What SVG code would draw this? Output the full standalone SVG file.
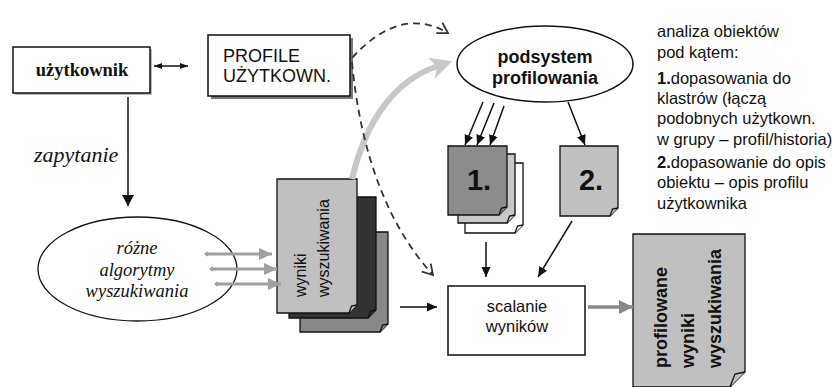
<svg xmlns="http://www.w3.org/2000/svg" width="832" height="387" viewBox="0 0 832 387">
<style>
.sans{font-family:"Liberation Sans",Arial,sans-serif;}
.serif{font-family:"Liberation Serif","DejaVu Serif","Times New Roman",serif;}
.box{fill:#fff;stroke:#111;stroke-width:1.5;}
.doc{stroke:#111;stroke-width:1.3;}
.blk{stroke:#111;stroke-width:1.5;fill:none;}
.dash{stroke:#333;stroke-width:1.8;fill:none;stroke-dasharray:7 5;}
.garr{stroke:#a0a0a0;stroke-width:3;fill:none;}
</style>
<defs>
<marker id="ab" markerUnits="userSpaceOnUse" markerWidth="12" markerHeight="12" refX="11" refY="6" orient="auto"><path d="M0,0 L11,6 L0,12 Z" fill="#111"/></marker>
<marker id="abs" markerUnits="userSpaceOnUse" markerWidth="10" markerHeight="10" refX="10" refY="5" orient="auto"><path d="M0,0.5 L10,5 L0,9.5 Z" fill="#111"/></marker>
<marker id="ad" markerUnits="userSpaceOnUse" markerWidth="8" markerHeight="8" refX="8" refY="4" orient="auto-start-reverse"><path d="M0,1 L8,4 L0,7 Z" fill="#111"/></marker>
<marker id="ao" markerUnits="userSpaceOnUse" markerWidth="14" markerHeight="14" refX="11" refY="7" orient="auto"><path d="M1,1 L11,7 L1,13" fill="none" stroke="#333" stroke-width="1.8"/></marker>
<marker id="ag" markerUnits="userSpaceOnUse" markerWidth="14" markerHeight="12" refX="13" refY="6" orient="auto"><path d="M0,0 L13,6 L0,12 Z" fill="#a0a0a0"/></marker>
<marker id="gdot" markerUnits="userSpaceOnUse" markerWidth="6" markerHeight="6" refX="3" refY="3" orient="auto"><path d="M0,3 L3,0.5 L6,3 L3,5.5 Z" fill="#a0a0a0"/></marker>
<marker id="ag2" markerUnits="userSpaceOnUse" markerWidth="16" markerHeight="14" refX="14" refY="7" orient="auto"><path d="M0,0 L14,7 L0,14 Z" fill="#888"/></marker>
<marker id="abig" markerUnits="userSpaceOnUse" markerWidth="24" markerHeight="24" refX="7" refY="11" orient="auto"><path d="M0,0 L22,11 L0,22 L6,11 Z" fill="#c8c8c8"/></marker>
</defs>

<g id="uzytkownik">
<rect x="15" y="49" width="137" height="46" fill="#bbb"/>
<rect class="box" x="13" y="47" width="137" height="46"/>
<text class="serif" x="82" y="76" font-size="18.5" font-weight="bold" text-anchor="middle" fill="#111">użytkownik</text>
</g>

<g id="profile">
<rect x="211" y="38" width="142" height="61" fill="#777"/>
<rect class="box" x="208" y="35" width="142" height="61"/>
<text class="sans" x="223" y="62" font-size="18" fill="#111">PROFILE</text>
<text class="sans" x="223" y="82" font-size="18" fill="#111">UŻYTKOWN.</text>
</g>

<g id="podsystem">
<ellipse cx="545" cy="64" rx="88" ry="38" fill="#fff" stroke="#111" stroke-width="1.5"/>
<text class="sans" x="545" y="63" font-size="18" font-weight="bold" text-anchor="middle" fill="#111">podsystem</text>
<text class="sans" x="545" y="84" font-size="18" font-weight="bold" text-anchor="middle" fill="#111">profilowania</text>
</g>

<g id="opis" class="sans" font-size="16.5" fill="#111">
<text x="657" y="37">analiza obiektów</text>
<text x="657" y="58">pod kątem:</text>
<text x="657" y="84"><tspan font-weight="bold">1.</tspan>dopasowania do</text>
<text x="657" y="104">klastrów (łączą</text>
<text x="657" y="124">podobnych użytkown.</text>
<text x="657" y="145">w grupy – profil/historia)</text>
<text x="657" y="168"><tspan font-weight="bold">2.</tspan>dopasowanie do opis</text>
<text x="657" y="188">obiektu – opis profilu</text>
<text x="657" y="209">użytkownika</text>
</g>

<g id="zapytanie-label">
<text class="serif" x="34" y="162" font-size="22" font-style="italic" fill="#111">zapytanie</text>
</g>

<g id="algorytmy">
<ellipse cx="137.5" cy="269" rx="99.5" ry="52" fill="#fff" stroke="#111" stroke-width="1.3"/>
<text class="serif" x="137" y="254" font-size="18.5" font-style="italic" text-anchor="middle" fill="#111">różne</text>
<text class="serif" x="137" y="276" font-size="18.5" font-style="italic" text-anchor="middle" fill="#111">algorytmy</text>
<text class="serif" x="137" y="297" font-size="18.5" font-style="italic" text-anchor="middle" fill="#111">wyszukiwania</text>
</g>

<g id="wyniki">
<path class="doc" fill="#888" d="M300,232 H388 V324 L380,332 H300 Z"/>
<path class="doc" fill="#888" d="M388,324 L382.5,325 L380,332"/>
<path class="doc" fill="#333" d="M289,197 H376 V310 L368,318 H289 Z"/>
<path class="doc" fill="#333" d="M376,310 L370.5,311 L368,318"/>
<path class="doc" fill="#c0c0c0" d="M277,179 H357 V305 L349,313 H277 Z"/>
<path class="doc" fill="#c0c0c0" d="M357,305 L351.5,306 L349,313"/>
<text class="sans" transform="translate(306,297) rotate(-90)" font-size="16" fill="#111">wyniki</text>
<text class="sans" transform="translate(329,297) rotate(-90)" font-size="16" fill="#111">wyszukiwania</text>
</g>

<g id="doc1">
<path class="doc" fill="#fff" d="M465,163 H523 V225 L515,233 H465 Z"/>
<path class="doc" fill="#fff" d="M523,225 L517.5,226 L515,233"/>
<path class="doc" fill="#c8c8c8" d="M458,154 H515 V215 L507,223 H458 Z"/>
<path class="doc" fill="#c8c8c8" d="M515,215 L509.5,216 L507,223"/>
<path class="doc" fill="#8c8c8c" d="M448,146 H507 V207 L499,215 H448 Z"/>
<path class="doc" fill="#8c8c8c" d="M507,207 L501.5,208 L499,215"/>
<text class="sans" x="479" y="190" font-size="29" font-weight="bold" text-anchor="middle" fill="#111">1.</text>
</g>

<g id="doc2">
<path class="doc" fill="#c0c0c0" d="M560,146 H618 V208 L610,216 H560 Z"/>
<path class="doc" fill="#c0c0c0" d="M618,208 L612.5,209 L610,216"/>
<text class="sans" x="591" y="190" font-size="29" font-weight="bold" text-anchor="middle" fill="#111">2.</text>
</g>

<g id="scalanie">
<rect class="box" x="448" y="286" width="137" height="69"/>
<text class="sans" x="517" y="312" font-size="16.5" text-anchor="middle" fill="#111">scalanie</text>
<text class="sans" x="517" y="332" font-size="16.5" text-anchor="middle" fill="#111">wyników</text>
</g>

<g id="profilowane">
<path class="doc" fill="#c0c0c0" d="M633,234 H745 V372 L730,387 H633 Z"/>
<path class="doc" fill="#c0c0c0" d="M745,372 L735,374 L730,387"/>
<text class="sans" transform="translate(667,368) rotate(-90)" font-size="18" font-weight="bold" fill="#111">profilowane</text>
<text class="sans" transform="translate(694,368) rotate(-90)" font-size="18" font-weight="bold" fill="#111">wyniki</text>
<text class="sans" transform="translate(721,368) rotate(-90)" font-size="18" font-weight="bold" fill="#111">wyszukiwania</text>
</g>

<g id="connectors">
<line class="blk" x1="154" y1="66" x2="188" y2="66" marker-start="url(#ad)" marker-end="url(#ad)" stroke-width="1.2"/>
<line class="blk" x1="128" y1="97" x2="128" y2="206" stroke-width="2.5" marker-end="url(#ab)"/>
<line class="garr" x1="207" y1="254" x2="272" y2="254" marker-start="url(#gdot)" marker-end="url(#ag)"/>
<line class="garr" x1="212" y1="269" x2="277" y2="269" marker-start="url(#gdot)" marker-end="url(#ag)"/>
<line class="garr" x1="217" y1="284" x2="281" y2="284" marker-start="url(#gdot)" marker-end="url(#ag)"/>
<path d="M352,179 C366,120 395,80 438,66" fill="none" stroke="#c8c8c8" stroke-width="6" marker-end="url(#abig)"/>
<path class="dash" d="M352,58 Q400,5 448,33" marker-end="url(#ao)"/>
<path class="dash" d="M352,62 Q365,200 433,275" marker-end="url(#ao)"/>
<line class="blk" x1="483" y1="102" x2="465" y2="145" marker-end="url(#abs)"/>
<line class="blk" x1="494" y1="103" x2="477" y2="145" marker-end="url(#abs)"/>
<line class="blk" x1="504" y1="106" x2="490" y2="145" marker-end="url(#abs)"/>
<line class="blk" x1="568" y1="102" x2="585" y2="145" marker-end="url(#abs)"/>
<line class="blk" x1="486" y1="242" x2="486" y2="277" marker-end="url(#abs)"/>
<line class="blk" x1="572" y1="221" x2="538" y2="277" marker-end="url(#abs)"/>
<line class="blk" x1="400" y1="307" x2="437" y2="307" marker-end="url(#abs)"/>
<line x1="588" y1="307" x2="633" y2="307" stroke="#888" stroke-width="3.5" marker-end="url(#ag2)"/>
</g>
</svg>
